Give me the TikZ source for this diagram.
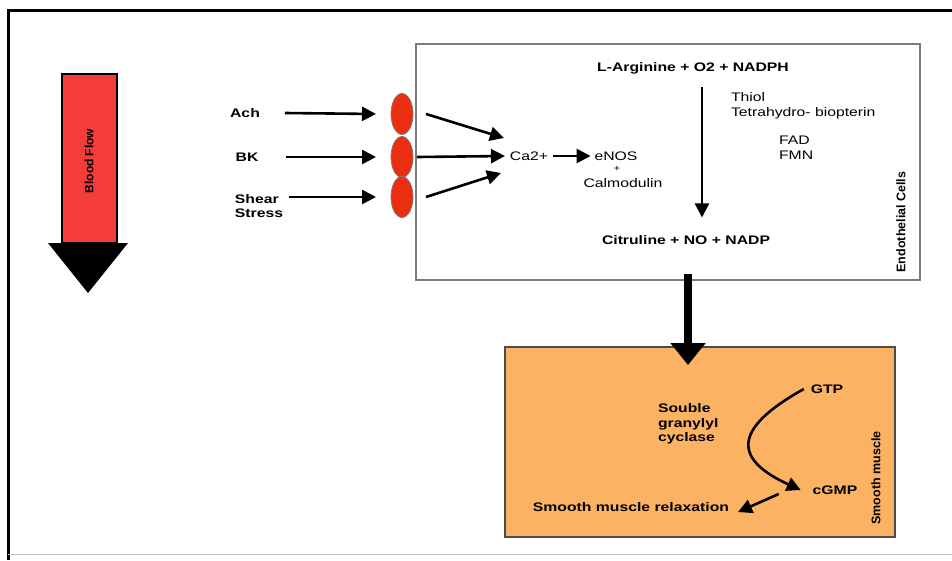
\documentclass[tikz,border=0pt]{standalone}
\usepackage{fontspec}
\setmainfont{Liberation Sans}
\newfontfamily\widefont[FakeStretch=1.27]{Liberation Sans}
\usetikzlibrary{arrows.meta,shapes}
\definecolor{flowred}{HTML}{F43C3A}
\definecolor{recred}{HTML}{EC2E10}
\definecolor{muscle}{HTML}{FBB262}
\definecolor{boxgray}{HTML}{7A7A7A}

\begin{document}
\begin{tikzpicture}[x=1pt,y=-1pt]
\tikzstyle{every node}+=[inner sep=1pt,outer sep=0pt]
\tikzstyle{lbl}=[font=\widefont\fontsize{12.4}{15}\selectfont]
\tikzstyle{blbl}=[font=\widefont\bfseries\fontsize{12.4}{14.5}\selectfont]
\tikzstyle{vlbl}=[rotate=90,font=\bfseries\fontsize{12.5}{14}\selectfont]
\tikzstyle{arr}=[line width=2.6pt,-{Triangle[width=14pt,length=14pt]}]
\tikzstyle{recep}=[ellipse,draw=boxgray,line width=0.8pt,fill=recred,minimum width=22pt,minimum height=41pt]
\useasboundingbox (0,0) rectangle (952,560);
\draw [line width=3pt] (952,10) -- (8,10) -- (8,560);
\draw [gray!50,line width=1pt] (8,554) -- (952,554);
\draw [black,fill=flowred,line width=2.2pt] (62,74) rectangle (117,243);
\fill [black] (48,243) -- (128,243) -- (88,293) -- cycle;
\node [rotate=90,font=\bfseries\fontsize{12}{13}\selectfont] (bf) at (89,161) {Blood Flow};
\node [draw=boxgray,line width=1.2pt,minimum width=504pt,minimum height=236pt] (endo) at (668,162) {};
\node [recep] (r1) at (402,114) {};
\node [recep] (r2) at (402,157) {};
\node [recep] (r3) at (402,197) {};
\node [blbl] (ach) at (245,113) {Ach};
\node [blbl] (bk) at (247,157) {BK};
\node [blbl,align=left] (shear) at (259,206) {Shear\\Stress};
\draw [arr] (ach.east) ++(24,0) -- ([xshift=-15pt]r1.west);
\draw [arr] (bk.east) ++(27,0) -- ([xshift=-15pt]r2.west);
\draw [arr] (shear.east |- r3) ++(5,0) -- ([xshift=-15pt]r3.west);
\node [lbl] (ca) at (529,156) {Ca2+};
\node [lbl] (enos) at (616,156) {eNOS};
\node [font=\widefont\fontsize{9}{10}\selectfont] (plus) at (617,169) {+};
\node [lbl] (calm) at (623,183) {Calmodulin};
\draw [arr] ([xshift=13pt]r1.east) -- ([xshift=-5pt,yshift=18pt]ca.west);
\draw [arr] ([xshift=4pt]r2.east) -- ([xshift=-4pt]ca.west);
\draw [arr] ([xshift=13pt]r3.east) -- ([xshift=-8pt,yshift=-17pt]ca.west);
\draw [arr] ([xshift=4pt]ca.east) -- ([xshift=-3pt]enos.west);
\node [blbl] (arg) at (693,68) {L-Arginine + O2 + NADPH};
\node [blbl] (cit) at (686,240) {Citruline + NO + NADP};
\draw [arr,shorten <=12pt,shorten >=17pt] ([xshift=9pt]arg.south) -- ([xshift=16pt]cit.north);
\node [lbl,anchor=west,align=left] (cof) at (730,106) {Thiol\\Tetrahydro- biopterin};
\node [lbl,anchor=west,align=left] (fad) at (778,148) {FAD\\FMN};
\node [vlbl] (endolbl) at (901,222) {Endothelial Cells};
\node [draw=black!70,fill=muscle,line width=1.2pt,minimum width=390pt,minimum height=190pt] (sm) at (700,442) {};
\draw [line width=8pt,-{Triangle[width=34pt,length=22pt]}] ([xshift=20pt,yshift=6pt]endo.south) -- ([xshift=-12pt,yshift=-18pt]sm.north);
\node [blbl] (gtp) at (827,389) {GTP};
\node [blbl,anchor=west,align=left] (sgc) at (657,424) {Souble\\granylyl\\cyclase};
\node [blbl] (cgmp) at (835,490) {cGMP};
\node [blbl] (relax) at (631,507) {Smooth muscle relaxation};
\draw [arr] ([xshift=-6pt]gtp.west) .. controls (730,430) and (735,460) .. ([xshift=-11pt]cgmp.west);
\draw [arr] ([xshift=-33pt,yshift=-4pt]cgmp.west) -- ([xshift=8pt,yshift=-5pt]relax.east);
\node [vlbl] (smlbl) at (876,478) {Smooth muscle};
\end{tikzpicture}
\end{document}
